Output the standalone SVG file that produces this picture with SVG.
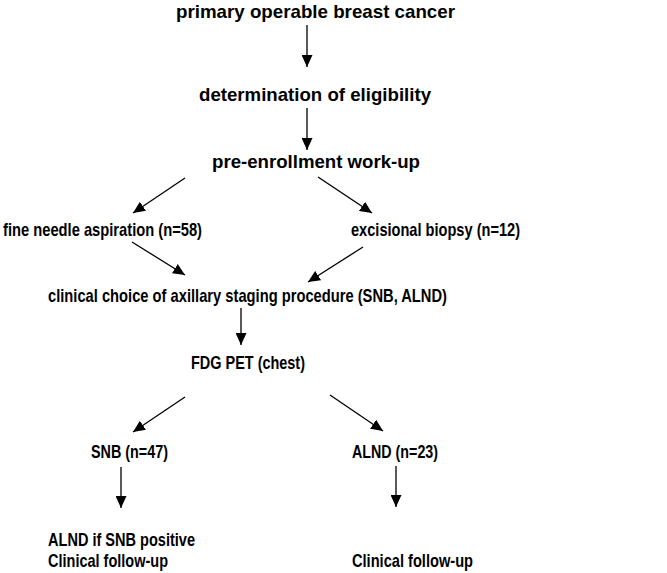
<svg xmlns="http://www.w3.org/2000/svg" width="667" height="573" viewBox="0 0 667 573">
<defs>
<marker id="ah" markerUnits="userSpaceOnUse" markerWidth="12" markerHeight="11" refX="12" refY="5.5" orient="auto">
<path d="M0,0 L12,5.5 L0,11 z" fill="#000"/>
</marker>
<style>
.t{font-family:"Liberation Sans",Arial,sans-serif;font-weight:bold;font-size:19px;fill:#000}
.c{stroke:#000;stroke-width:1.3;fill:none;marker-end:url(#ah)}
</style>
</defs>
<rect width="667" height="573" fill="#fff"/>
<g id="connectors">
<line class="c" x1="307" y1="25" x2="307" y2="67"/>
<line class="c" x1="307" y1="108" x2="307" y2="150"/>
<line class="c" x1="185" y1="178" x2="133" y2="213"/>
<line class="c" x1="318" y1="177" x2="372" y2="213"/>
<line class="c" x1="132" y1="242" x2="185" y2="275"/>
<line class="c" x1="363" y1="247" x2="308" y2="282"/>
<line class="c" x1="241" y1="308" x2="241" y2="345"/>
<line class="c" x1="185" y1="397" x2="133" y2="432"/>
<line class="c" x1="330" y1="395" x2="383" y2="431"/>
<line class="c" x1="121" y1="467" x2="121" y2="508"/>
<line class="c" x1="396" y1="466" x2="396" y2="507"/>
</g>
<g id="n1"><text class="t" x="176" y="18" textLength="279" lengthAdjust="spacingAndGlyphs">primary operable breast cancer</text></g>
<g id="n2"><text class="t" x="199" y="101" textLength="232" lengthAdjust="spacingAndGlyphs">determination of eligibility</text></g>
<g id="n3"><text class="t" x="212" y="168" textLength="208" lengthAdjust="spacingAndGlyphs">pre-enrollment work-up</text></g>
<g id="n4"><text class="t" x="3" y="236" textLength="199" lengthAdjust="spacingAndGlyphs">fine needle aspiration (n=58)</text></g>
<g id="n5"><text class="t" x="351" y="236" textLength="169" lengthAdjust="spacingAndGlyphs">excisional biopsy (n=12)</text></g>
<g id="n6"><text class="t" x="48" y="302" textLength="399" lengthAdjust="spacingAndGlyphs">clinical choice of axillary staging procedure (SNB, ALND)</text></g>
<g id="n7"><text class="t" x="191" y="369" textLength="114" lengthAdjust="spacingAndGlyphs">FDG PET (chest)</text></g>
<g id="n8"><text class="t" x="91" y="458" textLength="77" lengthAdjust="spacingAndGlyphs">SNB (n=47)</text></g>
<g id="n9"><text class="t" x="352" y="458" textLength="86" lengthAdjust="spacingAndGlyphs">ALND (n=23)</text></g>
<g id="n10"><text class="t" x="48" y="546" textLength="147" lengthAdjust="spacingAndGlyphs">ALND if SNB positive</text><text class="t" x="48" y="567" textLength="120" lengthAdjust="spacingAndGlyphs">Clinical follow-up</text></g>
<g id="n11"><text class="t" x="352" y="567" textLength="121" lengthAdjust="spacingAndGlyphs">Clinical follow-up</text></g>
</svg>
